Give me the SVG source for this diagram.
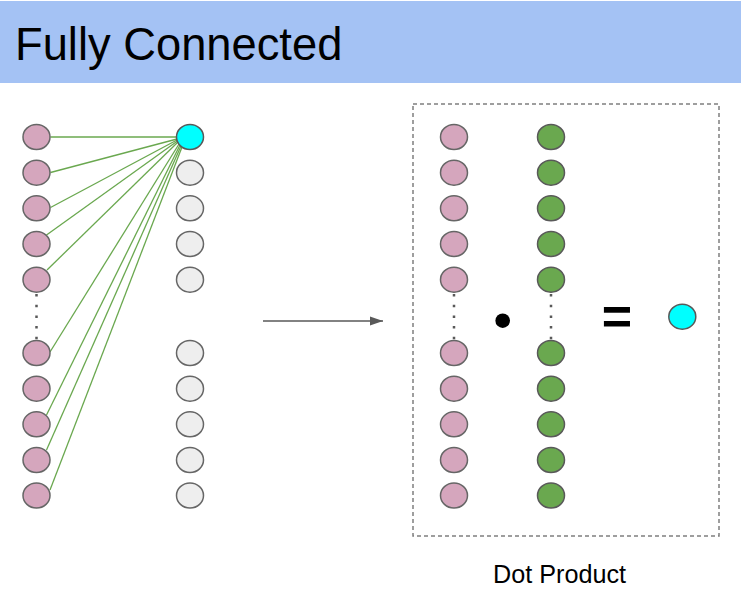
<svg xmlns="http://www.w3.org/2000/svg" width="741" height="612" viewBox="0 0 741 612">
<defs>
<style>
.pink{fill:#d5a6bd;stroke:#666666;stroke-width:1.5}
.gray{fill:#eeeeee;stroke:#666666;stroke-width:1.5}
.green{fill:#6aa84f;stroke:#595959;stroke-width:1.5}
.cyan{fill:#00ffff;stroke:#595959;stroke-width:1.5}
.conn{stroke:#6aa84f;stroke-width:1.3;fill:none}
.dots{stroke:#595959;stroke-width:2.5;stroke-dasharray:2.5 8.2;fill:none}
.txt{font-family:"Liberation Sans",Arial,sans-serif;fill:#000000}
</style>
<marker id="arr" markerWidth="14" markerHeight="10" refX="13" refY="5" orient="auto" markerUnits="userSpaceOnUse">
<path d="M0,0.5 L13,5 L0,9.5 Z" fill="#595959"/>
</marker>
</defs>
<rect x="0" y="0" width="741" height="612" fill="#ffffff"/>
<g id="title">
<rect x="0" y="1" width="741" height="82" fill="#a4c2f4"/>
<text class="txt" x="15" y="59.5" font-size="45.3">Fully Connected</text>
</g>
<g id="connectors">
<line class="conn" x1="50.5" y1="137" x2="177" y2="137"/>
<line class="conn" x1="50.5" y1="172.5" x2="177" y2="139"/>
<line class="conn" x1="50.5" y1="207.5" x2="177" y2="140"/>
<line class="conn" x1="46.5" y1="235" x2="177.5" y2="141"/>
<line class="conn" x1="47" y1="270" x2="178" y2="142"/>
<line class="conn" x1="50" y1="352" x2="179" y2="144"/>
<line class="conn" x1="46.5" y1="415" x2="180" y2="145"/>
<line class="conn" x1="46.5" y1="450" x2="181" y2="146"/>
<line class="conn" x1="50" y1="490" x2="182" y2="147"/>
<line x1="263" y1="321" x2="383" y2="321" stroke="#595959" stroke-width="1.3" marker-end="url(#arr)"/>
<line class="dots" x1="36.5" y1="294" x2="36.5" y2="340"/>
<line class="dots" x1="454" y1="294" x2="454" y2="340"/>
<line class="dots" x1="551" y1="294" x2="551" y2="340"/>
</g>
<g id="input-left">
<ellipse class="pink" cx="36.5" cy="137" rx="13.5" ry="12.5"/>
<ellipse class="pink" cx="36.5" cy="172.7" rx="13.5" ry="12.5"/>
<ellipse class="pink" cx="36.5" cy="208.3" rx="13.5" ry="12.5"/>
<ellipse class="pink" cx="36.5" cy="244" rx="13.5" ry="12.5"/>
<ellipse class="pink" cx="36.5" cy="279.7" rx="13.5" ry="12.5"/>
<ellipse class="pink" cx="36.5" cy="353" rx="13.5" ry="12.5"/>
<ellipse class="pink" cx="36.5" cy="388.7" rx="13.5" ry="12.5"/>
<ellipse class="pink" cx="36.5" cy="424.3" rx="13.5" ry="12.5"/>
<ellipse class="pink" cx="36.5" cy="460" rx="13.5" ry="12.5"/>
<ellipse class="pink" cx="36.5" cy="495.5" rx="13.5" ry="12.5"/>
</g>
<g id="output-left">
<ellipse class="cyan" cx="190" cy="137" rx="13.5" ry="12.5"/>
<ellipse class="gray" cx="190" cy="172.7" rx="13.5" ry="12.5"/>
<ellipse class="gray" cx="190" cy="208.3" rx="13.5" ry="12.5"/>
<ellipse class="gray" cx="190" cy="244" rx="13.5" ry="12.5"/>
<ellipse class="gray" cx="190" cy="279.7" rx="13.5" ry="12.5"/>
<ellipse class="gray" cx="190" cy="353" rx="13.5" ry="12.5"/>
<ellipse class="gray" cx="190" cy="388.7" rx="13.5" ry="12.5"/>
<ellipse class="gray" cx="190" cy="424.3" rx="13.5" ry="12.5"/>
<ellipse class="gray" cx="190" cy="460" rx="13.5" ry="12.5"/>
<ellipse class="gray" cx="190" cy="495.5" rx="13.5" ry="12.5"/>
</g>
<g id="dot-product-box">
<rect x="413" y="104" width="306" height="432" fill="none" stroke="#7f7f7f" stroke-width="1.5" stroke-dasharray="4 3"/>
</g>
<g id="input-right">
<ellipse class="pink" cx="454" cy="137" rx="13.5" ry="12.5"/>
<ellipse class="pink" cx="454" cy="172.7" rx="13.5" ry="12.5"/>
<ellipse class="pink" cx="454" cy="208.3" rx="13.5" ry="12.5"/>
<ellipse class="pink" cx="454" cy="244" rx="13.5" ry="12.5"/>
<ellipse class="pink" cx="454" cy="279.7" rx="13.5" ry="12.5"/>
<ellipse class="pink" cx="454" cy="353" rx="13.5" ry="12.5"/>
<ellipse class="pink" cx="454" cy="388.7" rx="13.5" ry="12.5"/>
<ellipse class="pink" cx="454" cy="424.3" rx="13.5" ry="12.5"/>
<ellipse class="pink" cx="454" cy="460" rx="13.5" ry="12.5"/>
<ellipse class="pink" cx="454" cy="495.5" rx="13.5" ry="12.5"/>
</g>
<g id="weights">
<ellipse class="green" cx="551" cy="137" rx="13.5" ry="12.5"/>
<ellipse class="green" cx="551" cy="172.7" rx="13.5" ry="12.5"/>
<ellipse class="green" cx="551" cy="208.3" rx="13.5" ry="12.5"/>
<ellipse class="green" cx="551" cy="244" rx="13.5" ry="12.5"/>
<ellipse class="green" cx="551" cy="279.7" rx="13.5" ry="12.5"/>
<ellipse class="green" cx="551" cy="353" rx="13.5" ry="12.5"/>
<ellipse class="green" cx="551" cy="388.7" rx="13.5" ry="12.5"/>
<ellipse class="green" cx="551" cy="424.3" rx="13.5" ry="12.5"/>
<ellipse class="green" cx="551" cy="460" rx="13.5" ry="12.5"/>
<ellipse class="green" cx="551" cy="495.5" rx="13.5" ry="12.5"/>
</g>
<g id="dot-operator">
<circle cx="502.7" cy="320.7" r="7.3" fill="#000000"/>
</g>
<g id="equals">
<text class="txt" x="617" y="334" font-size="52" font-weight="bold" text-anchor="middle">=</text>
</g>
<g id="result">
<ellipse class="cyan" cx="682.3" cy="316.7" rx="13.5" ry="12.5"/>
</g>
<g id="label">
<text class="txt" x="559.5" y="582.5" font-size="25.2" text-anchor="middle">Dot Product</text>
</g>
</svg>
